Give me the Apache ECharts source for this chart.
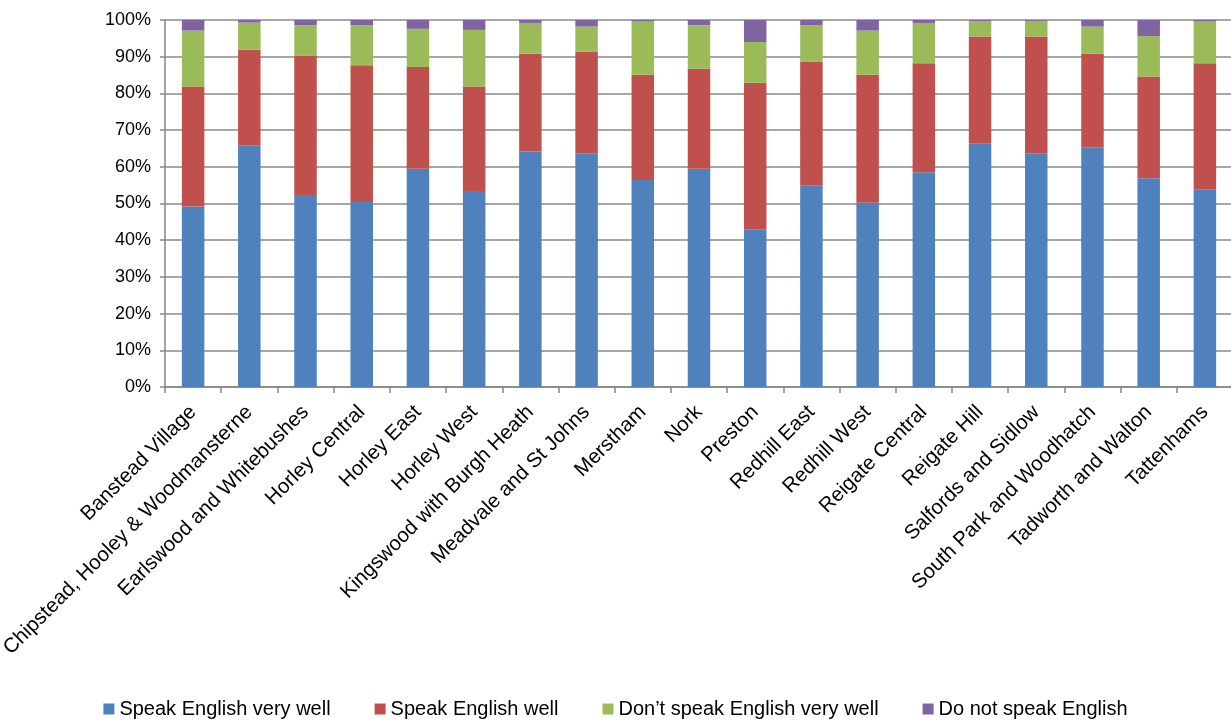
<!DOCTYPE html>
<html>
<head>
<meta charset="utf-8">
<script src="https://cdn.jsdelivr.net/npm/echarts@6/dist/echarts.min.js"></script>
<style>html,body{margin:0;padding:0;background:#fff;}#c{width:1231px;height:720px;}</style>
</head>
<body>
<div id="c"></div>
<script>
const categories = ["Banstead Village","Chipstead, Hooley & Woodmansterne","Earlswood and Whitebushes","Horley Central","Horley East","Horley West","Kingswood with Burgh Heath","Meadvale and St Johns","Merstham","Nork","Preston","Redhill East","Redhill West","Reigate Central","Reigate Hill","Salfords and Sidlow","South Park and Woodhatch","Tadworth and Walton","Tattenhams"];
const seriesNames = ["Speak English very well","Speak English well","Don\u2019t speak English very well","Do not speak English"];
const veryWell = [49.2,65.9,52.3,50.7,59.5,53.4,64.2,63.7,56.4,59.5,43.0,55.0,50.2,58.5,66.4,63.7,65.3,56.9,53.9];
const well = [32.7,26.0,38.0,37.0,27.7,28.5,26.6,27.7,28.7,27.2,39.9,33.7,34.9,29.7,29.1,31.8,25.5,27.7,34.3];
const notVeryWell = [15.2,7.4,8.3,10.9,10.4,15.4,8.4,6.8,14.6,11.9,11.1,9.9,12.0,11.0,4.2,4.3,7.4,11.0,11.5];
const notAtAll = [2.9,0.7,1.4,1.4,2.4,2.7,0.8,1.8,0.3,1.4,6.0,1.4,2.9,0.8,0.3,0.2,1.8,4.4,0.3];
const yTicks = [0,10,20,30,40,50,60,70,80,90,100];

const colors = ["#4F81BD","#C0504D","#9BBB59","#8064A2"];
const font = "Liberation Sans, Arial, sans-serif";
const chart = echarts.init(document.getElementById('c'));
const dataSets = [veryWell, well, notVeryWell, notAtAll];
chart.setOption({
  animation: false,
  color: colors,
  textStyle: {fontFamily: font, color: '#000'},
  grid: {left: 165, right: -2, top: 20, bottom: 333, containLabel: false, outerBoundsMode: 'none'},
  legend: {
    top: 694, left: 'center', itemWidth: 11, itemHeight: 11, itemGap: 44,
    icon: 'rect',
    textStyle: {fontSize: 20, fontFamily: font, color: '#000'},
    data: seriesNames
  },
  xAxis: {
    type: 'category', data: categories,
    axisLine: {show: true, lineStyle: {color: '#868686', width: 1.5}},
    axisTick: {show: true, length: 6, lineStyle: {color: '#868686', width: 1.5}},
    axisLabel: {rotate: 45, interval: 0, fontSize: 20.5, color: '#000', margin: 22, fontFamily: font},
    splitLine: {show: false}
  },
  yAxis: {
    type: 'value', min: yTicks[0], max: yTicks[yTicks.length-1], interval: 10,
    axisLine: {show: true, lineStyle: {color: '#868686', width: 1.5}},
    axisTick: {show: true, length: 5, lineStyle: {color: '#868686', width: 1.5}},
    axisLabel: {fontSize: 18, color: '#000', margin: 14, fontFamily: font, formatter: v => v + '%'},
    splitLine: {show: true, lineStyle: {color: '#8a8a8a', width: 1.5}}
  },
  series: dataSets.map((d, i) => ({
    name: seriesNames[i], type: 'bar', stack: 'total', data: d,
    barWidth: '40%',
    itemStyle: {color: colors[i]}
  }))
});
</script>
</body>
</html>
